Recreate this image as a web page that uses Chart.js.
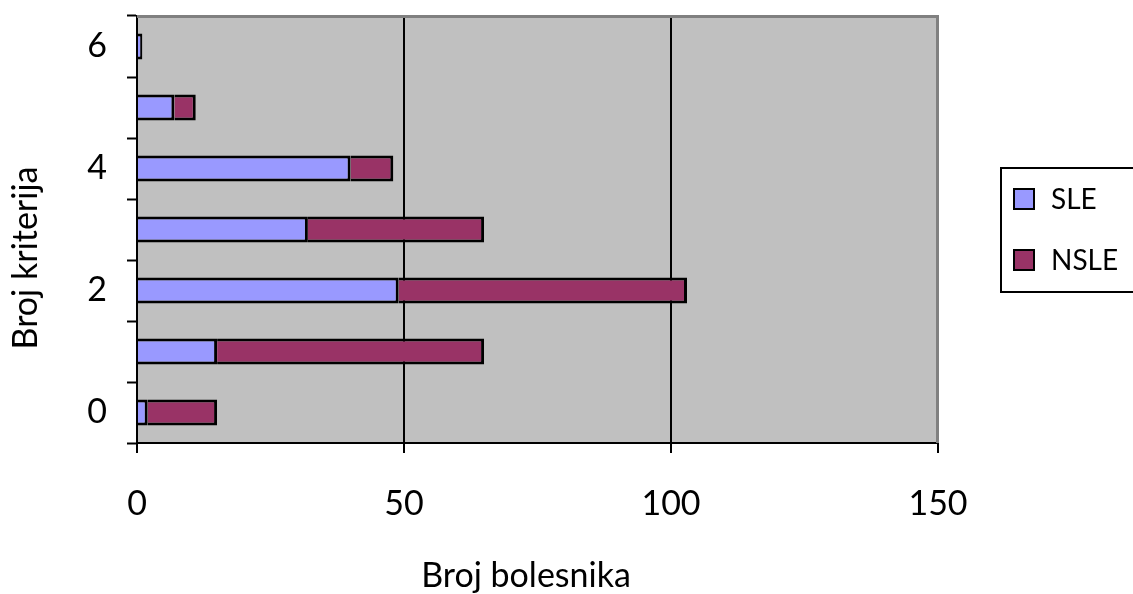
<!DOCTYPE html>
<html>
<head>
<meta charset="utf-8">
<script src="https://cdn.jsdelivr.net/npm/chart.js@4.4.0/dist/chart.umd.min.js"></script>
<style>
html,body{margin:0;padding:0;background:#fff;}
#wrap{width:1133px;height:594px;position:relative;}
</style>
</head>
<body>
<div id="wrap"><canvas id="c" width="1133" height="594"></canvas></div>
<script>
const categories = ['0','1','2','3','4','5','6'];
const sleValues  = [2, 15, 49, 32, 40, 7, 1];
const nsleValues = [13, 50, 54, 33, 8, 4, 0];
const xTicks = [0, 50, 100, 150];
const xTitle = 'Broj bolesnika';
const yTitle = 'Broj kriterija';

const FONT = 'Lato';

const plotDeco = {
  id: 'plotDeco',
  beforeDraw(chart) {
    const {ctx, chartArea: a} = chart;
    ctx.save();
    ctx.fillStyle = '#c0c0c0';
    ctx.fillRect(a.left, a.top, a.right - a.left, a.bottom - a.top);
    ctx.restore();
  },
  beforeDatasetsDraw(chart) {
    const {ctx, chartArea: a} = chart;
    ctx.save();
    ctx.strokeStyle = '#808080';
    ctx.lineWidth = 3;
    ctx.beginPath();
    ctx.moveTo(a.left, a.top + 0.5);
    ctx.lineTo(a.right - 0.5, a.top + 0.5);
    ctx.lineTo(a.right - 0.5, a.bottom);
    ctx.stroke();
    ctx.restore();
  },
  afterDraw(chart) {
    const {ctx} = chart;
    ctx.save();
    ctx.fillStyle = '#000';
    ctx.font = '34px ' + FONT;
    ctx.textAlign = 'center';
    ctx.textBaseline = 'alphabetic';
    ctx.fillText(xTitle, 526, 587);
    ctx.translate(37, 258);
    ctx.rotate(-Math.PI / 2);
    ctx.fillText(yTitle, 0, 0);
    ctx.restore();

    ctx.save();
    ctx.strokeStyle = '#000';
    ctx.lineWidth = 2;
    ctx.strokeRect(1001, 168, 140, 124);
    const rows = [199, 260];
    chart.data.datasets.forEach((ds, i) => {
      const cy = rows[i];
      ctx.fillStyle = ds.backgroundColor;
      ctx.fillRect(1013, cy - 11, 22, 22);
      ctx.strokeStyle = '#000';
      ctx.lineWidth = 2;
      ctx.strokeRect(1014, cy - 10, 20, 20);
      ctx.fillStyle = '#000';
      ctx.font = '28px ' + FONT;
      ctx.textAlign = 'left';
      ctx.textBaseline = 'middle';
      ctx.fillText(ds.label, 1051, cy + 1);
    });
    ctx.restore();
  }
};

new Chart(document.getElementById('c'), {
  type: 'bar',
  data: {
    labels: categories,
    datasets: [
      {label: 'SLE', data: sleValues, backgroundColor: '#9999ff', borderColor: '#000', borderWidth: 3},
      {label: 'NSLE', data: nsleValues, backgroundColor: '#993366', borderColor: '#000', borderWidth: 3}
    ]
  },
  options: {
    indexAxis: 'y',
    responsive: false,
    animation: false,
    devicePixelRatio: 1,
    categoryPercentage: 0.43,
    barPercentage: 1,
    layout: {padding: {left: 0, top: 16, right: 195, bottom: 0}},
    plugins: {legend: {display: false}, tooltip: {enabled: false}},
    scales: {
      x: {
        stacked: true,
        min: 0, max: 150,
        afterBuildTicks(scale) { scale.ticks = xTicks.map(v => ({value: v})); },
        afterFit(scale) { scale.height = 151; scale.paddingLeft = 0; scale.paddingRight = 0; },
        ticks: {color: '#000', font: {family: FONT, size: 34}, padding: 31, maxRotation: 0},
        grid: {
          color: ctx => (ctx.tick && (ctx.tick.value === 50 || ctx.tick.value === 100)) ? '#000' : 'rgba(0,0,0,0)',
          lineWidth: 2, tickColor: '#000', tickLength: 10, tickWidth: 2
        },
        border: {display: true, color: '#000', width: 2}
      },
      y: {
        stacked: true,
        reverse: true,
        afterFit(scale) { scale.width = 137; scale.paddingTop = 0; scale.paddingBottom = 0; },
        ticks: {
          color: '#000', font: {family: FONT, size: 34}, padding: 20,
          autoSkip: false,
          callback: (v, i) => (i % 2 === 0 ? categories[i] : '')
        },
        grid: {drawOnChartArea: false, offset: true, tickColor: '#000', tickLength: 10, tickWidth: 2},
        border: {display: true, color: '#000', width: 2}
      }
    }
  },
  plugins: [plotDeco]
});
</script>
</body>
</html>
